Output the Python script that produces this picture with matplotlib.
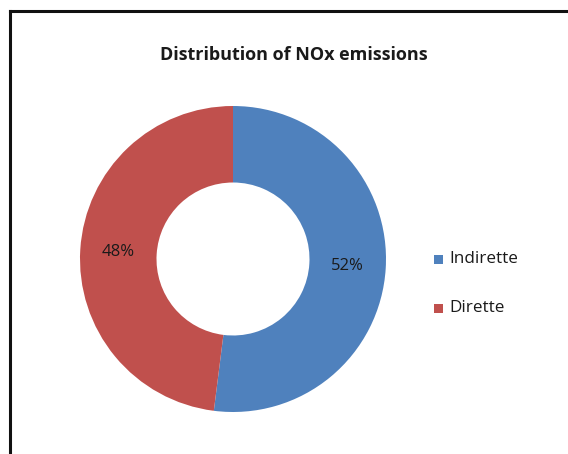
import matplotlib
matplotlib.use("Agg")
import matplotlib.pyplot as plt
from matplotlib.patches import Rectangle
from matplotlib.lines import Line2D

categories = ["Indirette", "Dirette"]
values = [52, 48]
colors = ["#4F81BD", "#C0504D"]
title = "Distribution of NOx emissions"

W, H = 568, 454
fig = plt.figure(figsize=(W / 100, H / 100), dpi=100)
fig.patch.set_facecolor("white")

# frame
fig.add_artist(Line2D([10 / W, 10 / W], [1 - 11 / H, -0.1], transform=fig.transFigure,
                      color="#111111", lw=2.2))
fig.add_artist(Line2D([10 / W, 1.1], [1 - 11 / H, 1 - 11 / H], transform=fig.transFigure,
                      color="#111111", lw=2.2))

cx, cy, r = 233, 259, 153
ax = fig.add_axes([(cx - r) / W, (H - cy - r) / H, 2 * r / W, 2 * r / H])
wedges, texts, autotexts = ax.pie(
    values, colors=colors, startangle=90, counterclock=False,
    wedgeprops=dict(width=0.5, edgecolor="none"),
    autopct=lambda p: f"{p:.0f}%", pctdistance=0.75,
    textprops=dict(fontsize=12, color="#1a1a1a", family="Open Sans"))
ax.set_xlim(-1, 1)
ax.set_ylim(-1, 1)
ax.set_aspect("equal")
ax.axis("off")

fig.text(294 / W, 1 - 55 / H, title, ha="center", va="center", fontsize=13,
         fontweight="bold", color="#1a1a1a", family="Open Sans")

# legend
for i, (cat, col) in enumerate(zip(categories, colors)):
    y = 259 + i * 49
    fig.add_artist(Rectangle((434 / W, 1 - (y + 4.5) / H), 9 / W, 9 / H,
                             transform=fig.transFigure, facecolor=col, edgecolor="none"))
    fig.text(449 / W, 1 - y / H, cat, ha="left", va="center", fontsize=12.3,
             color="#1a1a1a", family="Open Sans")

fig.savefig("out.png", dpi=100)
